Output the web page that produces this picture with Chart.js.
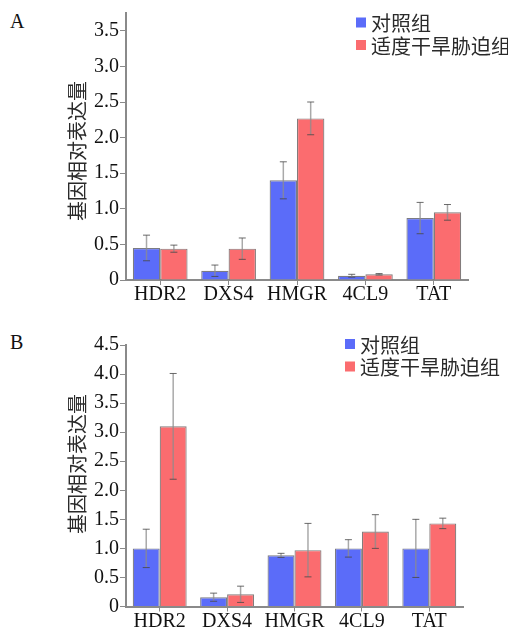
<!DOCTYPE html>
<html>
<head>
<meta charset="utf-8">
<script src="https://cdn.jsdelivr.net/npm/chart.js@4.4.1/dist/chart.umd.min.js"></script>
<style>
  html, body { margin: 0; padding: 0; background: #fff; }
  #wrap { position: relative; width: 508px; height: 631px; overflow: hidden; }
  canvas { position: absolute; left: 0; }
  .panel { position: absolute; left: 10px; font: 20px 'Liberation Serif', serif; color: #111; }
</style>
</head>
<body>
<div id="wrap">
  <div class="panel" style="top:10px">A</div>
  <div class="panel" style="top:331px">B</div>
  <canvas id="cA" width="508" height="316" style="top:0"></canvas>
  <canvas id="cB" width="508" height="315" style="top:316px"></canvas>
</div>
<script>
// 基因与分组
const genes = ['HDR2', 'DXS4', 'HMGR', '4CL9', 'TAT'];
const groupNames = ['对照组', '适度干旱胁迫组'];
const yTitle = '基因相对表达量';

// A 组数据（均值 ± 误差）
const ctrlA = [0.45, 0.13, 1.40, 0.06, 0.87];
const ctrlAErr = [0.18, 0.08, 0.26, 0.02, 0.22];
const droughtA = [0.44, 0.44, 2.27, 0.08, 0.95];
const droughtAErr = [0.05, 0.15, 0.23, 0.01, 0.11];

// B 组数据
const ctrlB = [1.00, 0.16, 0.88, 1.00, 1.00];
const ctrlBErr = [0.33, 0.07, 0.035, 0.15, 0.50];
const droughtB = [3.10, 0.21, 0.97, 1.29, 1.43];
const droughtBErr = [0.91, 0.14, 0.46, 0.29, 0.09];

// 坐标轴刻度
const yTicksA = [0, 0.5, 1, 1.5, 2, 2.5, 3, 3.5];
const yTicksB = [0, 0.5, 1, 1.5, 2, 2.5, 3, 3.5, 4, 4.5];

const BLUE = '#5b6cf9';
const RED = '#fb6c6f';
const AXIS = '#8a8a8a';
const SERIF = "'Liberation Serif', 'Times New Roman', serif";
const CJK = "'Noto Sans CJK SC', sans-serif";

// 误差线
const errorBarPlugin = {
  id: 'errorBars',
  afterDatasetsDraw(chart) {
    const ctx = chart.ctx;
    const y = chart.scales.y;
    chart.data.datasets.forEach((ds, i) => {
      const meta = chart.getDatasetMeta(i);
      meta.data.forEach((bar, j) => {
        const v = ds.data[j], e = ds.errors[j];
        const top = y.getPixelForValue(v + e);
        const bot = y.getPixelForValue(v - e);
        const x = bar.x;
        ctx.save();
        ctx.strokeStyle = 'rgba(140,140,140,0.75)';
        ctx.lineWidth = 1.5;
        ctx.beginPath();
        ctx.moveTo(x, top); ctx.lineTo(x, bot);
        ctx.stroke();
        ctx.strokeStyle = 'rgba(70,70,70,0.8)';
        ctx.lineWidth = 1;
        ctx.beginPath();
        ctx.moveTo(x - 3.5, top); ctx.lineTo(x + 3.5, top);
        ctx.moveTo(x - 3.5, bot); ctx.lineTo(x + 3.5, bot);
        ctx.stroke();
        ctx.restore();
      });
    });
  }
};

// 图例与纵轴标题
const decorPlugin = {
  id: 'decor',
  afterDraw(chart, args, opts) {
    const ctx = chart.ctx;
    ctx.save();
    ctx.font = '20px ' + CJK;
    ctx.textBaseline = 'middle';
    ctx.textAlign = 'left';
    chart.data.datasets.forEach((ds, i) => {
      const cy = opts.legendY + i * 22.5;
      ctx.fillStyle = ds.backgroundColor;
      ctx.fillRect(opts.legendX, cy - 5, 10, 10);
      ctx.fillStyle = '#2a2a2a';
      ctx.fillText(ds.label, opts.legendX + 15, cy + 1);
    });
    ctx.translate(77, opts.titleY);
    ctx.rotate(-Math.PI / 2);
    ctx.textAlign = 'center';
    ctx.fillStyle = '#2a2a2a';
    ctx.fillText(yTitle, 0, 0);
    ctx.restore();
  }
};

function makeChart(id, ctrl, ctrlErr, drought, droughtErr, ticks, yMax, pad, xH, decor) {
  return new Chart(document.getElementById(id), {
    type: 'bar',
    data: {
      labels: genes,
      datasets: [
        { label: groupNames[0], data: ctrl, errors: ctrlErr, backgroundColor: BLUE,
          borderColor: 'rgba(80,80,90,0.75)', borderWidth: 1.2 },
        { label: groupNames[1], data: drought, errors: droughtErr, backgroundColor: RED,
          borderColor: 'rgba(90,80,80,0.75)', borderWidth: 1.2 }
      ]
    },
    options: {
      responsive: false, animation: false,
      layout: { padding: pad },
      datasets: { bar: { categoryPercentage: 0.8, barPercentage: 1 } },
      plugins: { legend: { display: false }, tooltip: { enabled: false }, decor },
      scales: {
        x: {
          grid: { display: true, drawOnChartArea: false, offset: false, tickLength: 5, color: AXIS },
          border: { color: AXIS, width: 2 },
          ticks: { color: '#111', padding: 0, maxRotation: 0, font: { family: SERIF, size: 20, lineHeight: 1 } },
          afterFit: s => { s.height = xH; }
        },
        y: {
          min: 0, max: yMax,
          grid: { display: true, drawOnChartArea: false, tickLength: 6, color: AXIS },
          border: { color: AXIS, width: 2 },
          afterBuildTicks: s => { s.ticks = ticks.map(v => ({ value: v })); },
          ticks: { color: '#111', padding: 1, font: { family: SERIF, size: 20 },
            callback: v => v === 0 ? '0' : v.toFixed(1) },
          afterFit: s => { s.width = 66; }
        }
      }
    },
    plugins: [errorBarPlugin, decorPlugin]
  });
}

makeChart('cA', ctrlA, ctrlAErr, droughtA, droughtAErr, yTicksA, 3.75,
  { left: 60, right: 40, top: 13, bottom: 6 }, 30,
  { legendX: 356, legendY: 22.5, titleY: 151 });

makeChart('cB', ctrlB, ctrlBErr, droughtB, droughtBErr, yTicksB, 4.5,
  { left: 60, right: 45, top: 29, bottom: 2.5 }, 22,
  { legendX: 345, legendY: 28, titleY: 148 });
</script>
</body>
</html>
